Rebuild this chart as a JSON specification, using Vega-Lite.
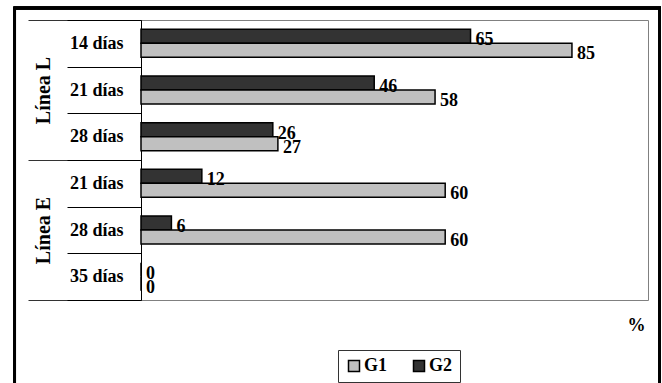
{
  "$schema": "https://vega.github.io/schema/vega-lite/v6.json",
  "width": 507,
  "height": 280,
  "autosize": {"type": "none"},
  "padding": {"left": 141, "top": 20, "right": 14, "bottom": 83},
  "background": "white",
  "config": {
    "view": {"stroke": "#808080", "strokeWidth": 1},
    "font": "Liberation Serif"
  },
  "datasets": {
    "d": [
      {"cat": "L-14 días", "grupo": "Línea L", "serie": "G2", "valor": 65},
      {"cat": "L-14 días", "grupo": "Línea L", "serie": "G1", "valor": 85},
      {"cat": "L-21 días", "grupo": "Línea L", "serie": "G2", "valor": 46},
      {"cat": "L-21 días", "grupo": "Línea L", "serie": "G1", "valor": 58},
      {"cat": "L-28 días", "grupo": "Línea L", "serie": "G2", "valor": 26},
      {"cat": "L-28 días", "grupo": "Línea L", "serie": "G1", "valor": 27},
      {"cat": "E-21 días", "grupo": "Línea E", "serie": "G2", "valor": 12},
      {"cat": "E-21 días", "grupo": "Línea E", "serie": "G1", "valor": 60},
      {"cat": "E-28 días", "grupo": "Línea E", "serie": "G2", "valor": 6},
      {"cat": "E-28 días", "grupo": "Línea E", "serie": "G1", "valor": 60},
      {"cat": "E-35 días", "grupo": "Línea E", "serie": "G2", "valor": 0},
      {"cat": "E-35 días", "grupo": "Línea E", "serie": "G1", "valor": 0}
    ]
  },
  "data": {"name": "d"},
  "layer": [
    {
      "mark": {"type": "rect", "fill": null, "fillOpacity": 0, "stroke": "black", "strokeWidth": 2.5},
      "encoding": {
        "x": {"datum": -24.9, "type": "quantitative"},
        "x2": {"datum": 102.3},
        "y": {"datum": -12, "type": "quantitative", "scale": {"domain": [0, 280], "reverse": true, "nice": false, "zero": false}, "axis": null},
        "y2": {"datum": 390}
      }
    },
    {
      "mark": {"type": "bar", "opacity": 0},
      "encoding": {
        "y": {
          "field": "grupo", "type": "nominal", "sort": ["Línea L", "Línea E"],
          "scale": {"paddingInner": 0, "paddingOuter": 0},
          "axis": {
            "orient": "left", "title": null, "domain": false,
            "tickBand": "extent", "tickSize": 113, "tickColor": "#333333", "tickWidth": 1,
            "labelAngle": 270, "labelAlign": "center", "labelBaseline": "middle",
            "labelPadding": -15, "labelFont": "Liberation Serif", "labelFontWeight": "bold",
            "labelFontSize": 20, "labelColor": "black"
          }
        }
      }
    },
    {
      "layer": [
        {
          "mark": {"type": "bar", "stroke": "black", "strokeWidth": 1.5},
          "encoding": {
            "y": {
              "field": "cat", "type": "nominal",
              "sort": ["L-14 días", "L-21 días", "L-28 días", "E-21 días", "E-28 días", "E-35 días"],
              "scale": {"paddingInner": 0, "paddingOuter": 0},
              "axis": {
                "orient": "left", "title": null, "domain": true, "domainColor": "black", "domainWidth": 1,
                "tickBand": "extent", "tickSize": 74, "tickColor": "black", "tickWidth": 1,
                "labelExpr": "substring(datum.label, 2)",
                "labelAlign": "right", "labelBaseline": "middle", "labelPadding": -56,
                "labelFont": "Liberation Serif", "labelFontWeight": "bold", "labelFontSize": 18,
                "labelColor": "black"
              }
            },
            "yOffset": {"field": "serie", "type": "nominal", "sort": ["G2", "G1"], "scale": {"paddingInner": 0, "paddingOuter": 0.667}},
            "x": {
              "field": "valor", "type": "quantitative",
              "scale": {"domain": [0, 100], "nice": false, "zero": true},
              "axis": {
                "labels": false, "ticks": false, "domain": false, "grid": false,
                "title": "%", "titleFont": "Liberation Serif", "titleFontWeight": "bold", "titleFontSize": 18,
                "titleColor": "black", "titleAnchor": "end", "titleAlign": "right", "titleX": 504, "titleY": 30,
                "titleBaseline": "alphabetic"
              }
            },
            "color": {
              "field": "serie", "type": "nominal",
              "scale": {"domain": ["G1", "G2"], "range": ["#c0c0c0", "#333333"]},
              "legend": {
                "orient": "none", "legendX": 197, "legendY": 330, "direction": "horizontal",
                "title": null, "strokeColor": "#333333", "padding": 7,
                "symbolType": "square", "symbolSize": 121, "symbolStrokeColor": "black", "symbolStrokeWidth": 1.5,
                "labelFont": "Liberation Serif", "labelFontWeight": "bold", "labelFontSize": 18, "labelColor": "black",
                "labelOffset": 1, "columnPadding": 22
              }
            }
          }
        },
        {
          "mark": {"type": "text", "align": "left", "baseline": "middle", "dx": 5, "dy": 4,
                   "font": "Liberation Serif", "fontWeight": "bold", "fontSize": 18, "color": "black"},
          "encoding": {
            "y": {"field": "cat", "type": "nominal",
                  "sort": ["L-14 días", "L-21 días", "L-28 días", "E-21 días", "E-28 días", "E-35 días"]},
            "yOffset": {"field": "serie", "type": "nominal", "sort": ["G2", "G1"]},
            "x": {"field": "valor", "type": "quantitative"},
            "text": {"field": "valor", "type": "quantitative"}
          }
        }
      ]
    }
  ],
  "resolve": {"scale": {"y": "independent"}, "axis": {"y": "independent"}}
}
